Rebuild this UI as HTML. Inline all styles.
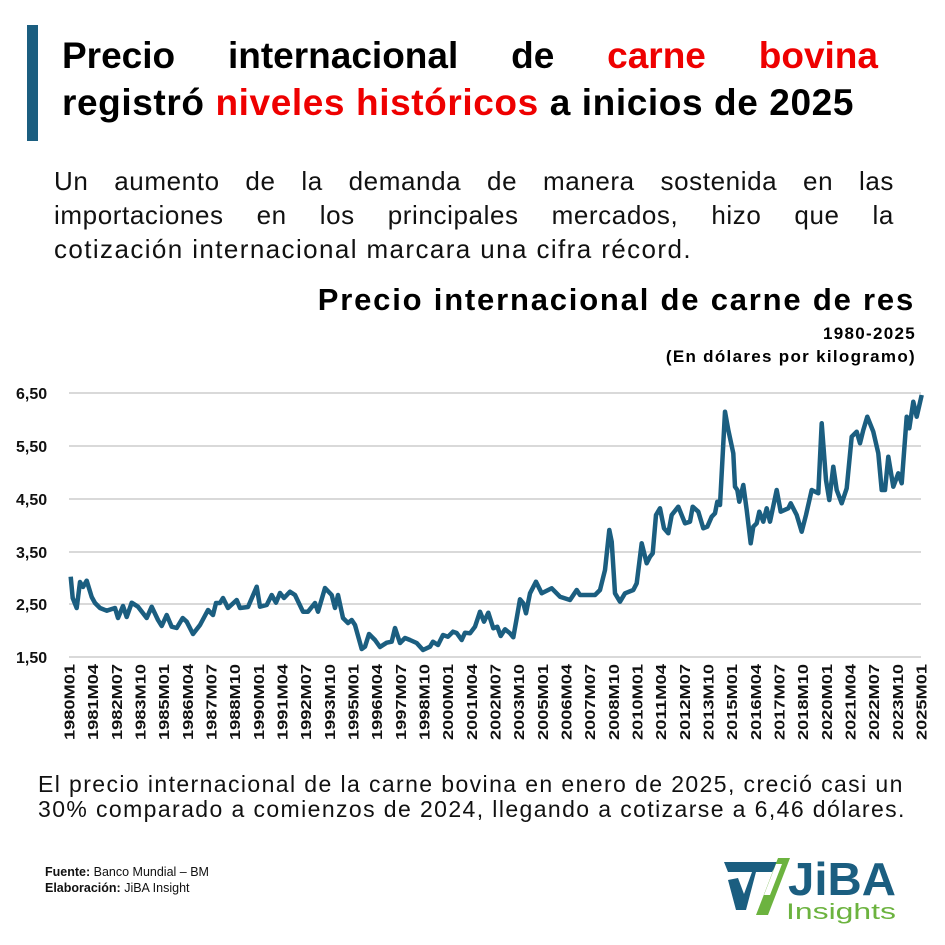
<!DOCTYPE html>
<html><head><meta charset="utf-8"><style>
body{margin:0;width:945px;height:945px;background:#fff;position:relative;overflow:hidden;font-family:"Liberation Sans",sans-serif;color:#000}
.abs{position:absolute}
.bar{left:27px;top:25px;width:11px;height:116px;background:#1b5e80}
.t{left:62px;width:816px;font-weight:bold;font-size:37px;line-height:47px;top:32px;text-align:justify;text-align-last:justify}
.t2{left:62px;font-weight:bold;font-size:37px;line-height:47px;top:79px;white-space:nowrap;letter-spacing:0.6px}
.red{color:#ee0000}
.p{left:54px;width:840px;font-size:26px;line-height:34px;color:#111;letter-spacing:0.6px}
.p div{text-align:justify;text-align-last:justify;white-space:nowrap}
.ct{right:30px;font-weight:bold;font-size:31px;top:282px;white-space:nowrap;letter-spacing:1.8px}
.s{right:29px;font-weight:bold;font-size:17px;white-space:nowrap;letter-spacing:1.3px}
.bt{left:38px;font-size:23px;line-height:25px;top:772px;color:#111;white-space:nowrap;letter-spacing:1.4px}
.f{left:45px;font-size:12.5px;line-height:16px;top:864px;color:#111}
</style></head><body>
<div class="abs bar"></div>
<div class="abs t">Precio internacional de <span class="red">carne bovina</span></div>
<div class="abs t2">registró <span class="red">niveles históricos</span> a inicios de 2025</div>
<div class="abs p" style="top:164px"><div>Un aumento de la demanda de manera sostenida en las</div></div>
<div class="abs p" style="top:198px"><div>importaciones en los principales mercados, hizo que la</div></div>
<div class="abs p" style="top:232px;width:auto;white-space:nowrap;letter-spacing:1.4px">cotización internacional marcara una cifra récord.</div>
<div class="abs ct">Precio internacional de carne de res</div>
<div class="abs s" style="top:324px">1980-2025</div>
<div class="abs s" style="top:347px">(En dólares por kilogramo)</div>
<svg class="abs" style="left:0;top:0" width="945" height="945">
<g stroke="#d9d9d9" stroke-width="2">
<line x1="69" x2="921" y1="393" y2="393"/><line x1="69" x2="921" y1="446" y2="446"/><line x1="69" x2="921" y1="499" y2="499"/><line x1="69" x2="921" y1="552" y2="552"/><line x1="69" x2="921" y1="604" y2="604"/><line x1="69" x2="921" y1="657" y2="657"/>
</g>
<g font-family="Liberation Sans" font-weight="bold" font-size="16" fill="#111">
<text x="16" y="399">6,50</text><text x="16" y="452">5,50</text><text x="16" y="505">4,50</text><text x="16" y="558">3,50</text><text x="16" y="610">2,50</text><text x="16" y="663">1,50</text>
</g>
<polyline fill="none" stroke="#1b5e80" stroke-width="4.5" stroke-linejoin="round" points="70.7,576.7 72.7,598 76.7,608 80,582 83,587 86.7,580.7 91.7,597 95,603 100,608 106.7,610.7 115,608 118,618 123,606 126.7,617 131.7,602.7 138,606.7 146.7,618 151.7,606.7 158,620 161.7,626 166.7,615 171.7,626.7 176.7,628 182.7,618 186.7,621.7 193,634 200,625 208,610 213,615 216,603 220,603 223,598 228,608 236.7,600 240,608 248,607 256.7,586.7 260,606.7 266.7,605 271.7,595 276,602.7 280,593 284,598 290,591.7 295,595 303,611.7 308,611.7 315,603 318,611.7 325,588 331.7,595 335,608 338,595 343,618 348,623 351.7,620 355,625 361.7,649 365,646.7 369,634 375,640 380,647 386.7,642.7 391.7,641.7 395,628 400,643 405,638 410,640 416.7,643 423,650 430,646.7 433,641.7 438,645 443,635 448,636.7 453,631.7 456.7,633 461.7,640 465,632.7 470,633.3 475,626.7 480,611.7 484,621.7 488.3,612.7 493.3,628.3 497.3,626.7 500.7,636 505,629.3 510,633.3 513.3,637.3 516.7,618.3 520,599.3 523.3,603.3 526,613.3 530,593.3 536,581.7 541.7,593.3 551.7,588.3 560,596.7 570,600 576.7,590 580,595 595,595 600,590 605,570 609.3,530 611.7,541.7 615,593.3 620,601.7 625,593.3 633.3,590 636.7,583.3 641.7,543.3 646.7,563.3 650,556.7 652.7,553.3 656,515 660,508.3 664,528.3 668.3,533.3 671.7,515 678.3,506.7 685,523.3 690,521.7 692.7,506.7 698.3,511.7 703.3,528.3 707.3,526.7 711.7,516.7 715,513.3 717.3,501.7 720,505 725,411.7 728.3,430 733.3,453.3 735,486.7 737.3,490 739.3,501.7 743.3,485 746.7,510 750.7,543.3 753.3,526.7 756.7,523.3 759.3,511.7 763.3,521.7 766.7,508.3 770,521.7 776.7,490 780.7,511.7 788.3,508.3 790.7,503.3 796.7,515 801.7,531.7 806,515 811.7,490 818.3,493.3 821.7,423.3 826,480 829.3,500 833.3,466.7 836.7,490 841.7,503.3 846.7,488.3 851.7,436.7 856.7,431.7 860,443.3 863.3,430 867.3,416.7 873.3,431.7 878.3,453.3 881.7,490 885,490 888.3,456.7 893.3,486.7 898.3,473.3 901.7,483.3 906.7,416.7 909.3,428.3 913.3,401.7 916.7,416.7 921.7,395"/>
<g id="xl" font-family="Liberation Sans" font-weight="bold" font-size="14.5" fill="#111" text-anchor="end"></g>
<polygon points="724,862 778,862 772,872 756,872 746,910 736,910 728,880 738,878 744,894 752,872 728,872" fill="#1b5e80"/>
<polygon points="778,858 790,858 768,915 756,915" fill="#6cb33f"/>
<polygon points="776,864 782,864 770,895 764,895" fill="#fff"/>
<text x="788" y="895" font-family="Liberation Sans" font-weight="bold" font-size="46" fill="#1b5e80" textLength="108" lengthAdjust="spacingAndGlyphs">JiBA</text>
<text x="786" y="919" font-family="Liberation Sans" font-size="22" fill="#6cb33f" textLength="110" lengthAdjust="spacingAndGlyphs">Insights</text>
</svg>
<div class="abs bt">El precio internacional de la carne bovina en enero de 2025, creció casi un<br>30% comparado a comienzos de 2024, llegando a cotizarse a 6,46 dólares.</div>
<div class="abs f"><b>Fuente:</b> Banco Mundial – BM<br><b>Elaboración:</b> JiBA Insight</div>
<script>
var g=document.getElementById('xl'),s='';
for(var i=0;i<=36;i++){var m=i*15,y=1980+Math.floor(m/12),mo=m%12+1;var lab=y+'M'+(mo<10?'0':'')+mo;var x=69+i*852/36+5.5;
s+='<text transform="translate('+x.toFixed(1)+',664) rotate(-90)" textLength="76" lengthAdjust="spacingAndGlyphs">'+lab+'</text>';}
g.innerHTML=s;
</script>
</body></html>
